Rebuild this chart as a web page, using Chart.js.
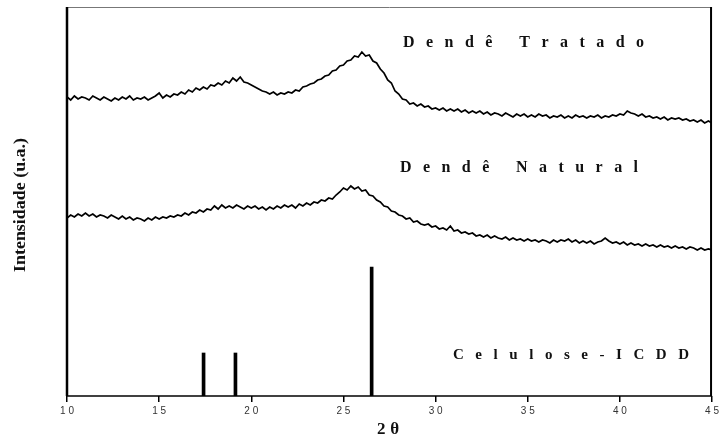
<!DOCTYPE html>
<html>
<head>
<meta charset="utf-8">
<script src="https://cdn.jsdelivr.net/npm/chart.js@4.4.0/dist/chart.umd.min.js"></script>
<style>
  body { margin:0; padding:0; background:#fff; }
  #wrap { width:722px; height:436px; }
</style>
</head>
<body>
<div id="wrap"><canvas id="xrd" width="722" height="436"></canvas></div>
<script>
// 2θ grid of the scans: 10.0 .. 45.0, step 0.2
const thetaStart = 10, thetaStep = 0.2;
const xTicks = [10, 15, 20, 25, 30, 35, 40, 45];

// Dendê Tratado (a.u., offset curve)
const tratado = [
  299,296,300,297,299,298,296,300,298,296,
  299,297,295,298,296,299,297,300,296,298,
  297,299,296,298,300,303,298,301,299,302,
  301,304,302,306,304,308,306,309,307,311,
  310,313,311,315,313,318,315,319,314,313,
  311,309,307,305,304,302,304,301,303,302,
  304,303,306,305,309,310,312,313,316,317,
  320,321,325,326,330,331,335,336,340,339,
  344,340,341,335,333,327,323,316,313,305,
  302,297,296,292,293,290,292,289,290,287,
  288,286,288,285,287,285,287,284,286,283,
  285,283,285,282,284,281,283,282,280,283,
  281,279,282,280,282,279,281,279,282,280,
  281,278,280,279,281,278,280,278,281,279,
  280,278,280,279,281,278,280,279,281,280,
  282,281,285,283,282,280,282,279,280,278,
  279,277,279,276,278,277,278,276,277,275,
  276,274,276,273,275,273
];

// Dendê Natural (a.u., offset curve)
const natural = [
  178,181,179,182,180,183,180,182,179,181,
  180,178,181,179,177,180,177,179,176,178,
  177,175,178,176,179,177,179,178,180,179,
  181,180,183,181,184,183,186,184,187,186,
  190,187,191,188,190,188,191,189,187,190,
  188,190,187,189,186,189,187,190,188,191,
  189,191,188,192,190,193,191,194,193,196,
  195,198,197,201,204,208,206,210,207,209,
  205,206,201,200,196,194,190,189,185,184,
  181,180,177,178,174,175,172,171,172,169,
  170,167,168,166,170,165,166,163,164,162,
  163,160,161,159,161,158,160,158,157,159,
  156,158,156,157,155,157,155,156,154,156,
  155,153,156,154,156,155,157,154,156,153,
  155,153,155,152,154,155,158,155,153,154,
  152,154,151,153,151,152,150,152,150,151,
  149,151,149,150,148,150,148,149,147,149,
  148,146,148,146,147,146
];

// Celulose ICDD reference lines
const icddPos = [17.41, 19.14, 26.53];
const icddInt = [43, 43, 129];

function toPoints(vals){
  return vals.map((v, i) => ({ x: +(thetaStart + i * thetaStep).toFixed(1), y: v }));
}

function spacedText(ctx, text, x0, x1, y){
  const chars = text.split('');
  let w = 0;
  chars.forEach(c => w += ctx.measureText(c).width);
  const gap = chars.length > 1 ? (x1 - x0 - w) / (chars.length - 1) : 0;
  let x = x0;
  chars.forEach(c => { ctx.fillText(c, x, y); x += ctx.measureText(c).width + gap; });
}

const decor = {
  id: 'decor',
  afterDraw(chart){
    const ctx = chart.ctx;
    const a = chart.chartArea;
    ctx.save();
    // frame
    ctx.strokeStyle = '#777'; ctx.lineWidth = 1;
    ctx.beginPath(); ctx.moveTo(a.left, a.top + 0.5); ctx.lineTo(a.right, a.top + 0.5); ctx.stroke();
    ctx.strokeStyle = '#000';
    ctx.lineWidth = 2.5;
    ctx.beginPath(); ctx.moveTo(a.left, a.top); ctx.lineTo(a.left, a.bottom); ctx.stroke();
    ctx.lineWidth = 2;
    ctx.beginPath(); ctx.moveTo(a.right - 1, a.top); ctx.lineTo(a.right - 1, a.bottom); ctx.stroke();
    ctx.lineWidth = 1.5;
    ctx.beginPath(); ctx.moveTo(a.left, a.bottom); ctx.lineTo(a.right, a.bottom); ctx.stroke();

    // curve labels
    ctx.fillStyle = '#111';
    ctx.textBaseline = 'alphabetic';
    ctx.textAlign = 'left';
    ctx.font = 'bold 16px "Liberation Serif", "DejaVu Serif", serif';
    spacedText(ctx, 'Dendê Tratado', 403, 644, 47);
    spacedText(ctx, 'Dendê Natural', 400, 638, 172);
    ctx.font = 'bold 15px "Liberation Serif", "DejaVu Serif", serif';
    spacedText(ctx, 'Celulose-ICDD', 453, 689, 359);

    // x title
    ctx.font = 'bold 17px "Liberation Serif", "DejaVu Serif", serif';
    spacedText(ctx, '2θ', 377, 399, 434);

    // y title (narrow, rotated)
    ctx.font = 'bold 17px "Liberation Serif", "DejaVu Serif", serif';
    const yt = 'Intensidade (u.a.)';
    const w = ctx.measureText(yt).width;
    ctx.translate(25, 205);
    ctx.rotate(-Math.PI / 2);
    ctx.scale(134 / w, 1);
    ctx.textAlign = 'center';
    ctx.fillText(yt, 0, 0);
    ctx.restore();
  }
};

const lineStyle = { borderColor: '#000', borderWidth: 1.7, pointRadius: 0, tension: 0, fill: false };

new Chart(document.getElementById('xrd'), {
  type: 'line',
  data: {
    datasets: [
      Object.assign({ label: 'Dendê Tratado', data: toPoints(tratado) }, lineStyle),
      Object.assign({ label: 'Dendê Natural', data: toPoints(natural) }, lineStyle),
      {
        type: 'bar', label: 'Celulose-ICDD',
        data: icddPos.map((p, i) => ({ x: p, y: icddInt[i] })),
        backgroundColor: '#000', barThickness: 3, borderWidth: 0
      }
    ]
  },
  options: {
    responsive: false,
    devicePixelRatio: 1,
    animation: false,
    events: [],
    layout: { padding: { left: 67, right: 8, top: 7, bottom: 0 } },
    plugins: { legend: { display: false }, tooltip: { enabled: false } },
    scales: {
      x: {
        type: 'linear', min: 10, max: 45, offset: false,
        afterBuildTicks: s => { s.ticks = xTicks.map(v => ({ value: v })); },
        afterFit: s => { s.height = 40; },
        grid: { display: true, drawOnChartArea: false, drawTicks: true, tickLength: 6, color: '#000', lineWidth: 1.5, offset: false },
        border: { display: false },
        ticks: {
          padding: 3,
          color: '#333',
          font: { family: '"Liberation Sans", Arial, sans-serif', size: 10 },
          maxRotation: 0,
          callback: v => String(v).split('').join(' ')
        }
      },
      y: { display: false, min: 0, max: 389 }
    }
  },
  plugins: [decor]
});
</script>
</body>
</html>
